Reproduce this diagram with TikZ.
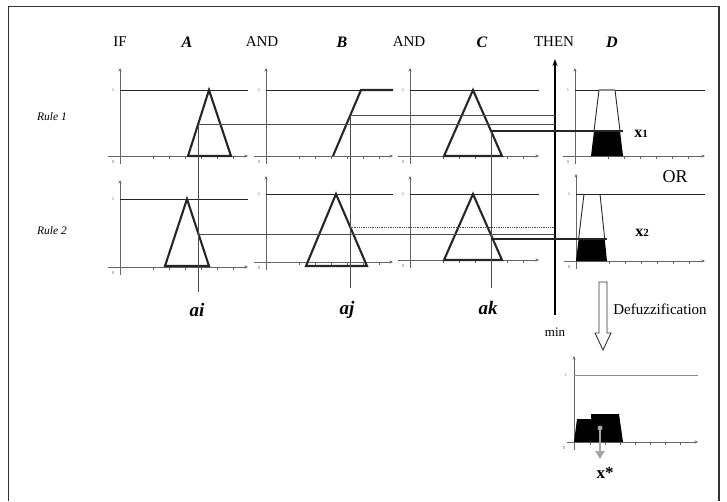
\documentclass[tikz,border=0pt]{standalone}
\usepackage{fontspec}
\setmainfont{Liberation Serif}
\usetikzlibrary{arrows.meta,calc}

\tikzset{
  axisline/.style={draw=black!60, line width=0.8pt},
  axisarrow/.style={axisline, -{Stealth[length=3.5pt,width=3pt]}},
  oneline/.style={draw=black!85, line width=1pt},
  mf/.style={draw=black!85, line width=2.1pt, line join=miter},
  cut/.style={draw=black!70, line width=0.8pt},
  cutdark/.style={draw=black!85, line width=1.1pt},
  ticklbl/.style={font=\fontsize{4.5}{5}\selectfont, text=black!60, inner sep=0pt},
  hdr/.style={font=\fontsize{15}{16}\selectfont, inner sep=0pt},
  hdrvar/.style={font=\fontsize{16}{17}\selectfont\bfseries\itshape, inner sep=0pt},
  rulelbl/.style={font=\fontsize{11.5}{12}\selectfont\itshape, inner sep=0pt},
  inlbl/.style={font=\fontsize{19}{20}\selectfont\bfseries\itshape, inner sep=0pt},
  plainlbl/.style={font=\fontsize{15}{16}\selectfont, inner sep=0pt},
}

% membership-function axes: #1 y-axis x, #2 x-axis y, #3 arrow top y,
% #4 level-one y, #5 right end x, #6 name prefix
\newcommand\mfaxes[6]{%
  \draw[axisarrow] (#1,#2+8) -- (#1,#3);
  \draw[axisarrow] (#1-12,#2) -- (#5,#2);
  \draw[oneline] (#1,#4) -- (#5,#4);
  \foreach \k in {0,...,5}{\draw[axisline] ({#1+33+16*\k},#2) -- ++(0,3);}
  \node[ticklbl] (#6-one) at (#1-7,#4) {1};
  \node[ticklbl] (#6-zero) at (#1-7,#2+6) {0};
}

\begin{document}
\begin{tikzpicture}[x=1pt,y=-1pt]
\useasboundingbox (0,0) rectangle (727,501);

% frame
\draw[black!80, line width=1.2pt] (8.5,501) -- (8.5,6.5) -- (719,6.5) -- (719,501);

% header
\node[hdr]    (if)    at (120,42) {IF};
\node[hdrvar] (hA)    at (187,42) {A};
\node[hdr]    (and1)  at (262,42) {AND};
\node[hdrvar] (hB)    at (342,42) {B};
\node[hdr]    (and2)  at (409,42) {AND};
\node[hdrvar] (hC)    at (482,42) {C};
\node[hdr]    (then)  at (554,42) {THEN};
\node[hdrvar] (hD)    at (612,42) {D};

\node[rulelbl] (r1) at (52,117) {Rule 1};
\node[rulelbl] (r2) at (52,231) {Rule 2};

% axes, rule 1
\mfaxes{120}{156}{68}{90}{248}{a1}
\mfaxes{266}{156}{68}{90}{393}{b1}
\mfaxes{410}{156}{68}{90}{539}{c1}
\mfaxes{575}{156}{68}{90}{705}{d1}
% axes, rule 2
\mfaxes{120}{267}{180}{199}{248}{a2}
\mfaxes{266}{262}{176}{194}{393}{b2}
\mfaxes{410}{260}{176}{194}{539}{c2}
\mfaxes{576}{261}{174}{194}{705}{d2}

% input membership functions
\draw[mf] (188,156) -- (209,90) -- (231,156) -- cycle;
\draw[mf] (333,156) -- (361,90) -- (393,90);
\draw[mf] (444,156) -- (473,90) -- (502,156) -- cycle;
\draw[mf] (165,266) -- (187,199) -- (209,266) -- cycle;
\draw[mf] (306,266) -- (336,194) -- (367,266) -- cycle;
\draw[mf] (444,260) -- (473,194) -- (502,260) -- cycle;

% crisp inputs and their degrees
\coordinate (ai1) at (198.5,124);
\coordinate (ai2) at (198.5,234);
\coordinate (aibot) at (198.5,292);
\coordinate (aj1) at (350,115);
\coordinate (aj2) at (350,227);
\coordinate (ajbot) at (350,288);
\coordinate (ak1) at (491,131);
\coordinate (ak2) at (491,239);
\coordinate (akbot) at (491,288);

% min operator
\coordinate (minbot) at (555,315);
\coordinate (mintop) at (555,59);
\draw[black, line width=1.6pt, -{Stealth[length=7pt,width=5pt]}] (minbot) -- (mintop);
\node[font=\fontsize{13}{14}\selectfont, inner sep=0pt] (min) at (555,332) {min};

\draw[cut] (ai1) -- (aibot);
\draw[cut] (aj1) -- (ajbot);
\draw[cut] (ak1) -- (akbot);

\draw[cut] (ai1) -- (ai1 -| minbot);
\draw[cut] (aj1) -- (aj1 -| minbot);
\draw[cut] (ai2) -- (ai2 -| minbot);
\draw[cut, densely dotted, line width=1pt] (aj2) -- (aj2 -| minbot);

% clipped consequents
\coordinate (d1r) at (623,131);
\coordinate (d2r) at (607,239);
\fill[black] (591,156) -- (594,131) -- (620,131) -- (623,156) -- cycle;
\draw[black!85, line width=0.9pt] (594,131) -- (599,90) (615,90) -- (620,131);
\draw[black!45, line width=1.3pt] (599,90) -- (615,90);
\draw[cutdark] (ak1) -- (d1r);

\fill[black] (576,261) -- (578.6,239) -- (604.7,239) -- (607,261) -- cycle;
\draw[black!85, line width=0.9pt] (578.6,239) -- (584,194) (600,194) -- (604.7,239);
\draw[cutdark] (ak2) -- (d2r);

\node[inner sep=0pt] (x1) at (641,134) {\fontsize{16}{16}\selectfont\bfseries x\fontsize{11}{11}\selectfont 1};
\node[inner sep=0pt] (x2) at (642,233) {\fontsize{16}{16}\selectfont\bfseries x\fontsize{11}{11}\selectfont 2};
\node[font=\fontsize{18}{19}\selectfont, inner sep=0pt] (or) at (675,177) {OR};

% crisp input labels
\node[inlbl] (ai) at (197,310) {ai};
\node[inlbl] (aj) at (347,310) {aj};
\node[inlbl] (ak) at (488,308) {ak};

% defuzzification arrow
\coordinate (dtop) at (603,282);
\coordinate (dtip) at (603,350);
\draw[black!80, line width=0.9pt, fill=white]
  ($(dtop)+(-4,0)$) -- ($(dtop)+(-4,51)$) -- ($(dtop)+(-8,51)$) -- (dtip)
  -- ($(dtop)+(8,51)$) -- ($(dtop)+(4,51)$) -- ($(dtop)+(4,0)$) -- cycle;
\node[plainlbl] (defuzz) at (660,309) {Defuzzification};

% aggregated output
\draw[axisarrow] (574,450) -- (574,356);
\draw[axisarrow] (567,442) -- (698,442);
\draw[draw=black!45, line width=0.8pt] (574,375) -- (698,375);
\foreach \k in {0,...,6}{\draw[axisline] ({590+15*\k},442) -- ++(0,3);}
\node[ticklbl] (o-one) at (566,375) {1};
\node[ticklbl] (o-zero) at (564,448) {0};
\fill[black] (574,442) -- (577,419) -- (591,419) -- (591,414) -- (619,414) -- (623,442) -- cycle;
\coordinate (cog) at (600,428);
\coordinate (xs) at (600,459);
\fill[black!35] (cog) circle (2.5pt);
\draw[black!35, line width=2.6pt, -{Triangle[length=8pt,width=9pt]}] (cog) -- (xs);
\node[inner sep=0pt] (xstar) at (605,473) {\fontsize{17}{18}\selectfont\bfseries x*};

\end{tikzpicture}
\end{document}
